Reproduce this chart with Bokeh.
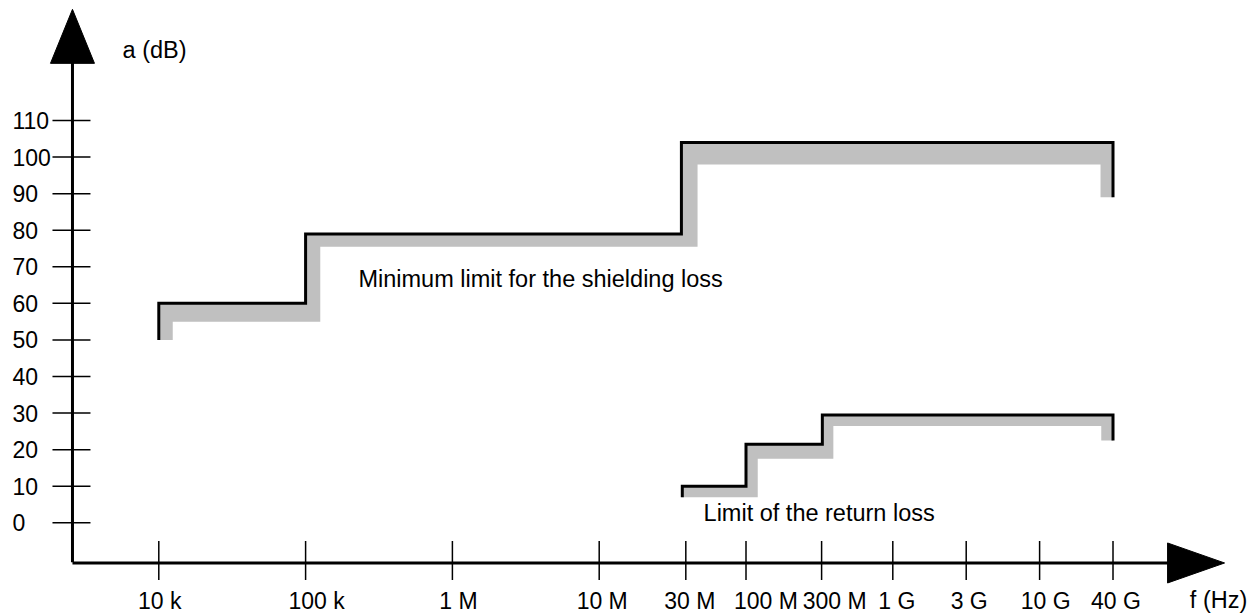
from bokeh.plotting import figure
from bokeh.models import Range1d, Label
from bokeh.core.properties import value
from bokeh.embed import file_html
from bokeh.resources import INLINE

# ---- axis definitions (x in "decades above 1 Hz" as drawn on the chart) ----
x_tick_labels = ["10 k", "100 k", "1 M", "10 M", "30 M", "100 M", "300 M", "1 G", "3 G", "10 G", "40 G"]
x_tick_pos = [4.0, 5.0, 6.0, 7.0, 7.59, 8.0, 8.515, 9.0, 9.5, 10.0, 10.5]
y_ticks = [0, 10, 20, 30, 40, 50, 60, 70, 80, 90, 100, 110]
y_tick_labels = [str(v) for v in y_ticks]

# ---- minimum limit for the shielding loss (black step line) ----
shield_x = [4.0, 4.0, 5.0, 5.0, 7.56, 7.56, 10.5, 10.5]
shield_y = [50, 60, 60, 79, 79, 104, 104, 89]
# inner edge of the grey band
shield_band_x = [4.095, 4.095, 5.1, 5.1, 7.67, 7.67, 10.415, 10.415]
shield_band_y = [50, 55, 55, 75.5, 75.5, 98, 98, 89]

# ---- limit of the return loss ----
ret_x = [7.566, 7.566, 8.0, 8.0, 8.52, 8.52, 10.5, 10.5]
ret_y = [7, 10, 10, 21.5, 21.5, 29.5, 29.5, 22.5]
ret_band_x = [7.566, 8.08, 8.08, 8.595, 8.595, 10.42, 10.42]
ret_band_y = [7, 7, 17.5, 17.5, 26.5, 26.5, 22.5]

# ---- layout / style ----
W, H = 1258, 614
FONT = "Liberation Sans"
GREY = "#c0c0c0"
x_start, x_end = 2.9217, 11.4911
y_start, y_end = -25.08, 142.82
DX = (x_end - x_start) / W      # data per pixel
DY = (y_end - y_start) / H
AX_X, AX_Y = 3.412, -10.99      # where the two axes cross
X_TIP = 11.26                   # tip of the f arrow
Y_TIP = 140.4                   # tip of the a arrow
# horizontal nudges of the x tick labels (pixels), as placed in the drawing
x_label_nudge = [1, 11, 6, 3, 4, 20, 13, 4, 3, 6, 3]

p = figure(width=W, height=H, x_range=Range1d(x_start, x_end), y_range=Range1d(y_start, y_end),
           output_backend="svg", toolbar_location=None,
           min_border_left=0, min_border_right=0, min_border_top=0, min_border_bottom=0)
p.axis.visible = False
p.outline_line_color = None
p.grid.visible = False
p.background_fill_color = "white"
p.border_fill_color = "white"

# grey bands
p.patch(shield_x + shield_band_x[::-1], shield_y + shield_band_y[::-1],
        fill_color=GREY, line_color=None)
p.patch(ret_x + ret_band_x[::-1], ret_y + ret_band_y[::-1],
        fill_color=GREY, line_color=None)

# black limit lines
p.line(shield_x, shield_y, line_width=3, line_color="black", line_join="miter")
p.line(ret_x, ret_y, line_width=3, line_color="black", line_join="miter")

# ---- hand-drawn style axes ----
# axis lines
p.segment(x0=[AX_X, AX_X], y0=[AX_Y + 0.2, AX_Y], x1=[AX_X, X_TIP - 50 * DX], y1=[Y_TIP - 50 * DY, AX_Y],
          line_color="black", line_width=3)
# arrow heads
p.patches(xs=[[AX_X - 22 * DX, AX_X + 22 * DX, AX_X],
              [X_TIP - 57 * DX, X_TIP - 57 * DX, X_TIP]],
          ys=[[Y_TIP - 54 * DY, Y_TIP - 54 * DY, Y_TIP],
              [AX_Y - 20 * DY, AX_Y + 20 * DY, AX_Y]],
          fill_color="black", line_color="black", line_width=1)
# y ticks
p.segment(x0=[AX_X - 20 * DX] * len(y_ticks), x1=[AX_X + 18 * DX] * len(y_ticks),
          y0=y_ticks, y1=y_ticks, line_color="black", line_width=1.5)
# x ticks
p.segment(x0=x_tick_pos, x1=x_tick_pos,
          y0=[AX_Y - 17 * DY] * len(x_tick_pos), y1=[AX_Y + 22 * DY] * len(x_tick_pos),
          line_color="black", line_width=1.5)
# tick labels
p.text(x=[AX_X - 60 * DX] * len(y_ticks), y=y_ticks, text=y_tick_labels,
       text_font=value(FONT), text_font_size="23px", text_color="black",
       text_align="left", text_baseline="middle")
p.text(x=[t + n * DX for t, n in zip(x_tick_pos, x_label_nudge)],
       y=[AX_Y - 38 * DY] * len(x_tick_pos), text=x_tick_labels,
       text_font=value(FONT), text_font_size="23px", text_color="black",
       text_align="center", text_baseline="middle")

# texts
for txt, x, y, align in [("a (dB)", 3.753, 129.4, "left"),
                         ("Minimum limit for the shielding loss", 5.36, 66.8, "left"),
                         ("Limit of the return loss", 7.711, 2.8, "left"),
                         ("f (Hz)", 11.219, -21.25, "center")]:
    p.add_layout(Label(x=x, y=y, text=txt, text_font=FONT, text_font_size="23.5px",
                       text_color="black", text_baseline="middle", text_align=align))

open("out.html", "w").write(file_html(p, INLINE))
